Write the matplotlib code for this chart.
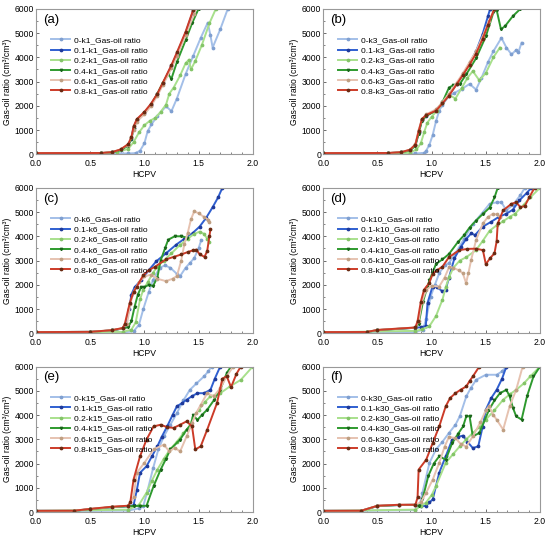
import numpy as np
import matplotlib
matplotlib.use("Agg")
import matplotlib.pyplot as plt
from matplotlib.ticker import MultipleLocator

plt.rcParams['font.family'] = ['Liberation Sans', 'DejaVu Sans']

# fractions of the injected gas (legend prefixes)
fractions = ['0', '0.1', '0.2', '0.4', '0.6', '0.8']
line_colors = ['#a3bfe8', '#2f5fd0', '#a8e08c', '#2e9a2e', '#e6c2b0', '#cc3b28']
mark_colors = ['#7f9fd0', '#1f3a9a', '#84c468', '#1a661a', '#bf9f82', '#6a2a12']
markers = ['o', 'o', 'o', 'v', 'o', 'o']

# (a) k1   -- (HCPV, gas-oil ratio)
k1_00 = [(0, 30), (0.5, 30), (0.85, 35), (0.92, 50), (0.96, 150), (1.0, 450), (1.03, 950), (1.065, 1230),
         (1.12, 1580), (1.2, 1980), (1.25, 1780), (1.3, 2300), (1.38, 3300), (1.45, 4050), (1.52, 4800),
         (1.585, 5430), (1.61, 4900), (1.63, 4400), (1.7, 5150), (1.77, 6000), (1.8, 6400)]
k1_01 = [(0, 50), (0.6, 50), (0.7, 80), (0.78, 180), (0.85, 380), (0.88, 650), (0.9, 1100), (0.93, 1420),
         (1.0, 1720), (1.06, 2050), (1.12, 2480), (1.17, 2920), (1.25, 3650), (1.3, 4150), (1.38, 5000),
         (1.45, 5900), (1.48, 6300)]
k1_02 = [(0, 40), (0.6, 40), (0.75, 100), (0.85, 220), (0.9, 500), (0.95, 900), (1.0, 1200), (1.05, 1380),
         (1.1, 1500), (1.15, 1750), (1.2, 2050), (1.23, 2500), (1.27, 2750), (1.33, 3250), (1.38, 3750),
         (1.41, 3900), (1.43, 3500), (1.47, 3850), (1.53, 4500), (1.6, 5400), (1.66, 6000), (1.68, 6300)]
k1_04 = [(0, 50), (0.6, 50), (0.7, 80), (0.78, 170), (0.85, 360), (0.88, 620), (0.9, 1050), (0.93, 1400),
         (1.0, 1700), (1.06, 2030), (1.12, 2500), (1.17, 2950), (1.22, 3300), (1.25, 3120), (1.3, 3800),
         (1.38, 4700), (1.44, 5400), (1.5, 6000), (1.52, 6300)]
k1_06 = [(0, 50), (0.6, 55), (0.7, 90), (0.78, 200), (0.85, 400), (0.88, 700), (0.9, 1000), (0.93, 1350),
         (1.0, 1650), (1.06, 1980), (1.12, 2420), (1.17, 2850), (1.25, 3550), (1.3, 4050), (1.38, 4900),
         (1.46, 5800), (1.5, 6300)]
k1_08 = [(0, 50), (0.6, 55), (0.7, 90), (0.78, 200), (0.85, 420), (0.88, 700), (0.9, 1150), (0.93, 1450),
         (1.0, 1750), (1.06, 2080), (1.12, 2500), (1.17, 2950), (1.25, 3680), (1.3, 4200), (1.38, 5050),
         (1.45, 5950), (1.48, 6300)]

# (b) k3
k3_00 = [(0, 30), (0.85, 35), (0.93, 60), (0.95, 150), (0.98, 400), (1.01, 800), (1.04, 1360), (1.07, 1800),
         (1.1, 2050), (1.16, 2400), (1.21, 2530), (1.28, 2700), (1.35, 2900), (1.41, 2670), (1.46, 3150),
         (1.52, 3800), (1.57, 4250), (1.644, 4800), (1.69, 4400), (1.737, 4120), (1.78, 4300), (1.8, 4200),
         (1.83, 4600)]
k3_01 = [(0, 50), (0.6, 50), (0.72, 80), (0.8, 170), (0.85, 380), (0.88, 900), (0.91, 1400), (0.95, 1600),
         (1.04, 1830), (1.1, 2100), (1.16, 2450), (1.23, 2900), (1.29, 3300), (1.35, 3750), (1.41, 4250),
         (1.47, 4950), (1.52, 5700), (1.54, 6000), (1.56, 6300)]
k3_02 = [(0, 40), (0.8, 60), (0.86, 200), (0.9, 450), (0.93, 900), (0.96, 1300), (1.0, 1550), (1.05, 1800),
         (1.1, 2100), (1.16, 2450), (1.22, 2300), (1.28, 2750), (1.33, 3150), (1.38, 3430), (1.44, 3050),
         (1.5, 3350), (1.57, 4000), (1.63, 4400)]
k3_04 = [(0, 50), (0.6, 50), (0.72, 80), (0.8, 160), (0.85, 350), (0.88, 850), (0.91, 1380), (0.95, 1580),
         (1.04, 1800), (1.1, 2150), (1.16, 2750), (1.2, 2850), (1.26, 2900), (1.32, 3300), (1.41, 3960),
         (1.5, 4860), (1.57, 5850), (1.6, 5950), (1.64, 5150), (1.68, 5300), (1.75, 5700), (1.82, 6000),
         (1.84, 6200)]
k3_06 = [(0, 50), (0.6, 55), (0.72, 90), (0.8, 190), (0.85, 420), (0.88, 1000), (0.91, 1450), (0.95, 1650),
         (1.04, 1850), (1.1, 2150), (1.16, 2500), (1.23, 2950), (1.29, 3350), (1.35, 3800), (1.41, 4250),
         (1.47, 4850), (1.53, 5500), (1.58, 6000), (1.6, 6300)]
k3_08 = [(0, 50), (0.6, 55), (0.72, 90), (0.8, 190), (0.85, 400), (0.88, 950), (0.91, 1450), (0.95, 1620),
         (1.04, 1800), (1.1, 2100), (1.16, 2420), (1.23, 2880), (1.29, 3280), (1.35, 3700), (1.41, 4150),
         (1.47, 4750), (1.52, 5350), (1.58, 6000), (1.6, 6300)]

# (c) k6
k6_00 = [(0, 30), (0.8, 40), (0.9, 80), (0.95, 350), (0.99, 1000), (1.04, 1700), (1.08, 2200), (1.14, 2700),
         (1.19, 2800), (1.24, 2700), (1.3, 2450), (1.33, 2360), (1.38, 2700), (1.42, 2900), (1.46, 3100),
         (1.5, 3500), (1.525, 3850)]
k6_01 = [(0, 50), (0.5, 60), (0.7, 120), (0.8, 200), (0.83, 400), (0.86, 1000), (0.88, 1600), (0.91, 1900),
         (0.97, 2200), (1.04, 2600), (1.11, 2970), (1.2, 3300), (1.295, 3660), (1.37, 3900), (1.447, 4140),
         (1.51, 4400), (1.57, 4760), (1.63, 5200), (1.68, 5600), (1.72, 6000), (1.74, 6200)]
k6_02 = [(0, 40), (0.8, 60), (0.88, 150), (0.92, 450), (0.96, 1400), (0.99, 1800), (1.03, 2100), (1.08, 2500),
         (1.12, 2750), (1.18, 3000), (1.25, 3300), (1.325, 3630), (1.4, 3900), (1.46, 4100), (1.51, 4190),
         (1.55, 4100), (1.58, 3900), (1.6, 3780)]
k6_04 = [(0, 50), (0.5, 60), (0.7, 120), (0.8, 200), (0.85, 250), (0.88, 500), (0.91, 1100), (0.94, 1600),
         (0.97, 1900), (1.0, 1900), (1.04, 2000), (1.08, 1950), (1.12, 2300), (1.15, 3000), (1.19, 3500),
         (1.22, 3860), (1.28, 4000), (1.34, 4000), (1.39, 3950)]
k6_06 = [(0, 50), (0.5, 60), (0.7, 130), (0.8, 210), (0.84, 400), (0.87, 1200), (0.9, 1700), (0.95, 2100),
         (1.0, 2350), (1.065, 2420), (1.12, 2250), (1.2, 2150), (1.26, 2250), (1.3, 2360), (1.34, 3000),
         (1.37, 3700), (1.4, 4140), (1.43, 4700), (1.46, 5030), (1.5, 4950), (1.55, 4800), (1.585, 4690),
         (1.6, 4600)]
k6_08 = [(0, 50), (0.5, 60), (0.7, 130), (0.8, 220), (0.82, 400), (0.865, 1250), (0.9, 1700), (0.93, 1920),
         (0.99, 2400), (1.04, 2600), (1.1, 2750), (1.2, 3050), (1.27, 3150), (1.34, 3250), (1.4, 3350),
         (1.447, 3420), (1.48, 3450), (1.51, 3260), (1.555, 3150), (1.58, 3400), (1.6, 4000), (1.61, 4300)]

# (d) k10
k10_00 = [(0, 30), (0.85, 50), (0.92, 150), (0.95, 600), (0.99, 1500), (1.03, 2000), (1.07, 2480), (1.12, 2800),
          (1.16, 2900), (1.22, 3300), (1.3, 3900), (1.38, 4500), (1.47, 4980), (1.535, 5340), (1.6, 5400),
          (1.644, 5400), (1.69, 5070), (1.75, 5300), (1.82, 5700), (1.86, 6000), (1.88, 6200)]
k10_01 = [(0, 50), (0.4, 50), (0.5, 130), (0.85, 230), (0.9, 250), (0.946, 300), (0.962, 1250), (1.008, 1930),
          (1.05, 1900), (1.1, 1730), (1.13, 1800), (1.16, 2300), (1.21, 3090), (1.27, 3570), (1.32, 3900),
          (1.365, 4120), (1.4, 4050), (1.47, 4390), (1.55, 4600), (1.62, 4800), (1.69, 4930), (1.75, 5100),
          (1.81, 5480), (1.88, 5800), (1.92, 6000), (1.94, 6200)]
k10_02 = [(0, 40), (0.85, 100), (0.915, 160), (0.98, 300), (1.04, 710), (1.1, 1390), (1.13, 1900), (1.163, 2340),
          (1.2, 2700), (1.26, 3000), (1.32, 3140), (1.41, 3430), (1.47, 3800), (1.535, 4230), (1.6, 4450),
          (1.66, 4620), (1.72, 4800), (1.77, 4930), (1.85, 5300), (1.91, 5600), (2.0, 6000)]
k10_04 = [(0, 50), (0.4, 50), (0.5, 130), (0.85, 230), (0.88, 400), (0.92, 1300), (0.96, 1900), (0.98, 2180),
          (1.04, 2860), (1.1, 3050), (1.16, 3270), (1.24, 3750), (1.3, 4050), (1.35, 4360), (1.41, 4650),
          (1.47, 4910), (1.535, 5180), (1.58, 5600), (1.61, 6000), (1.63, 6300)]
k10_06 = [(0, 50), (0.4, 55), (0.5, 140), (0.85, 240), (0.88, 500), (0.91, 1300), (0.95, 1800), (1.0, 1950),
          (1.07, 1930), (1.12, 2300), (1.163, 2750), (1.2, 2700), (1.25, 2600), (1.287, 2480), (1.318, 2070),
          (1.34, 2500), (1.365, 3030), (1.41, 3850), (1.473, 4530), (1.52, 4800), (1.566, 4930), (1.6, 4900),
          (1.628, 4800)]
k10_08 = [(0, 50), (0.4, 55), (0.5, 140), (0.85, 240), (0.87, 500), (0.9, 1300), (0.93, 1800), (0.977, 2070),
          (1.01, 2450), (1.05, 2600), (1.1, 2750), (1.16, 3140), (1.256, 3430), (1.33, 3480), (1.41, 3490),
          (1.473, 3430), (1.5, 2850), (1.54, 3100), (1.58, 3300), (1.6, 3800), (1.61, 4530), (1.66, 5070),
          (1.737, 5340), (1.78, 5400), (1.82, 5200), (1.86, 5250), (1.9, 5600), (1.95, 6000), (1.97, 6200)]

# (e) k15
k15_00 = [(0, 30), (0.85, 60), (0.95, 150), (0.99, 250), (1.03, 900), (1.08, 1800), (1.13, 2600), (1.18, 3120),
          (1.24, 3600), (1.3, 4080), (1.36, 4600), (1.42, 5040), (1.48, 5300), (1.55, 5590), (1.59, 5800),
          (1.62, 6000), (1.64, 6200)]
k15_01 = [(0, 50), (0.35, 50), (0.5, 120), (0.7, 200), (0.85, 240), (0.9, 280), (0.93, 900), (0.96, 1620),
          (1.02, 1890), (1.07, 2300), (1.12, 2710), (1.16, 3100), (1.21, 3530), (1.26, 4000), (1.3, 4360),
          (1.35, 4500), (1.39, 4630), (1.44, 4780), (1.49, 4900), (1.55, 4900), (1.61, 5040), (1.65, 5500),
          (1.7, 6000), (1.72, 6200)]
k15_02 = [(0, 40), (0.85, 100), (0.95, 300), (1.02, 800), (1.07, 1300), (1.12, 1750), (1.18, 2200), (1.24, 2600),
          (1.3, 2900), (1.36, 3250), (1.41, 3500), (1.45, 3900), (1.5, 4200), (1.56, 4550), (1.61, 4770),
          (1.7, 4900), (1.79, 5180), (1.89, 5450), (2.0, 6000)]
k15_04 = [(0, 50), (0.35, 50), (0.5, 120), (0.7, 200), (0.85, 240), (0.9, 250), (0.96, 250), (1.02, 260),
          (1.085, 1070), (1.15, 1750), (1.2, 2200), (1.24, 2580), (1.33, 2990), (1.39, 3400), (1.43, 3600),
          (1.45, 4000), (1.49, 3800), (1.53, 4000), (1.58, 4220), (1.64, 4600), (1.7, 5040), (1.76, 5730),
          (1.8, 6000), (1.82, 6200)]
k15_06 = [(0, 50), (0.35, 55), (0.5, 130), (0.7, 210), (0.85, 260), (0.9, 600), (0.93, 1620), (1.0, 2030),
          (1.085, 2580), (1.18, 2780), (1.23, 2500), (1.28, 2650), (1.33, 2500), (1.39, 3120), (1.44, 3670),
          (1.48, 4100), (1.52, 4420), (1.58, 4900), (1.64, 4770), (1.7, 5100), (1.76, 5600), (1.82, 6000),
          (1.84, 6200)]
k15_08 = [(0, 50), (0.35, 55), (0.5, 130), (0.7, 220), (0.85, 260), (0.87, 400), (0.9, 1340), (0.96, 2300),
          (1.02, 2990), (1.085, 3530), (1.15, 3600), (1.21, 3500), (1.27, 3470), (1.33, 3600), (1.39, 3740),
          (1.44, 3530), (1.47, 2580), (1.52, 2710), (1.58, 3400), (1.67, 4490), (1.72, 5500), (1.76, 5600),
          (1.8, 5150), (1.85, 5700), (1.89, 6000), (1.91, 6200)]

# (f) k30
k30_00 = [(0, 30), (0.85, 80), (0.89, 300), (0.915, 800), (0.98, 2030), (1.04, 2580), (1.1, 2900), (1.16, 3260),
          (1.22, 3600), (1.26, 3950), (1.32, 4770), (1.36, 5100), (1.41, 5450), (1.5, 5660), (1.6, 5660),
          (1.65, 5800), (1.69, 6000), (1.71, 6200)]
k30_01 = [(0, 50), (0.35, 50), (0.5, 250), (0.7, 290), (0.85, 300), (0.9, 250), (0.946, 250), (0.98, 400),
          (1.01, 520), (1.07, 1620), (1.13, 2300), (1.19, 2990), (1.24, 3100), (1.29, 3150), (1.33, 2900),
          (1.38, 2640), (1.43, 2710), (1.47, 3500), (1.5, 4220), (1.55, 4700), (1.6, 5040), (1.65, 5500),
          (1.69, 6000), (1.71, 6200)]
k30_02 = [(0, 40), (0.85, 100), (0.9, 250), (0.946, 380), (1.0, 700), (1.04, 1070), (1.13, 2030), (1.2, 2400),
          (1.26, 2710), (1.32, 3000), (1.38, 3260), (1.44, 3500), (1.5, 3810), (1.58, 4200), (1.66, 4630),
          (1.72, 4850), (1.78, 5040), (1.85, 5300), (1.91, 5590), (2.0, 6000)]
k30_04 = [(0, 50), (0.35, 50), (0.5, 250), (0.7, 290), (0.85, 300), (0.88, 250), (0.915, 520), (0.97, 1500),
          (1.02, 2000), (1.07, 2300), (1.13, 2160), (1.19, 2850), (1.24, 3200), (1.29, 3530), (1.32, 3950),
          (1.35, 3950), (1.38, 3120), (1.44, 3260), (1.53, 4220), (1.58, 4600), (1.63, 4900), (1.69, 5040),
          (1.72, 4770), (1.75, 4300), (1.78, 3950), (1.83, 3810), (1.88, 4770), (1.94, 5590), (2.0, 6000)]
k30_06 = [(0, 50), (0.35, 55), (0.5, 260), (0.7, 300), (0.85, 310), (0.9, 400), (0.95, 800), (1.01, 1340),
          (1.07, 2030), (1.12, 2700), (1.16, 3100), (1.22, 3050), (1.27, 2800), (1.32, 2700), (1.38, 3120),
          (1.45, 3700), (1.5, 4200), (1.53, 4360), (1.57, 4000), (1.6, 3810), (1.66, 3400), (1.72, 4360),
          (1.78, 5040), (1.84, 6000), (1.86, 6200)]
k30_08 = [(0, 50), (0.35, 55), (0.5, 260), (0.7, 300), (0.85, 300), (0.87, 600), (0.88, 1750), (0.95, 2160),
          (1.01, 2850), (1.07, 3530), (1.13, 4360), (1.17, 4700), (1.22, 4900), (1.27, 5050), (1.32, 5180),
          (1.35, 5400), (1.38, 5590), (1.44, 6000), (1.46, 6200)]

panels = [
    ('(a)', 'k1', [k1_00, k1_01, k1_02, k1_04, k1_06, k1_08]),
    ('(b)', 'k3', [k3_00, k3_01, k3_02, k3_04, k3_06, k3_08]),
    ('(c)', 'k6', [k6_00, k6_01, k6_02, k6_04, k6_06, k6_08]),
    ('(d)', 'k10', [k10_00, k10_01, k10_02, k10_04, k10_06, k10_08]),
    ('(e)', 'k15', [k15_00, k15_01, k15_02, k15_04, k15_06, k15_08]),
    ('(f)', 'k30', [k30_00, k30_01, k30_02, k30_04, k30_06, k30_08]),
]

fig = plt.figure(figsize=(5.5, 5.39), dpi=100)

lefts = [0.0655, 0.5878]
bottoms = [0.7137, 0.3816, 0.050]
w, h = 0.394, 0.2700

for i, (tag, kname, series) in enumerate(panels):
    ax = fig.add_axes([lefts[i % 2], bottoms[i // 2], w, h])
    for j, pts in enumerate(series):
        xs = [p[0] for p in pts]
        ys = [p[1] for p in pts]
        ax.plot(xs, ys, color=line_colors[j], lw=1.4, marker=markers[j], ms=1.7,
                mfc=mark_colors[j], mec=mark_colors[j],
                label=f'{fractions[j]}-{kname}_Gas-oil ratio')
    ax.set_xlim(0, 2.0)
    ax.set_ylim(0, 6000)
    ax.xaxis.set_major_locator(MultipleLocator(0.5))
    ax.xaxis.set_minor_locator(MultipleLocator(0.1))
    ax.yaxis.set_major_locator(MultipleLocator(1000))
    ax.yaxis.set_minor_locator(MultipleLocator(500))
    ax.tick_params(which='both', direction='in', labelsize=6.2, colors='#555555', labelcolor='black')
    ax.tick_params(axis='x', pad=3.5)
    ax.tick_params(axis='y', pad=1.5)
    ax.tick_params(which='major', length=2.5, width=0.6)
    ax.tick_params(which='minor', length=1.5, width=0.5)
    ax.xaxis.set_major_formatter(matplotlib.ticker.FormatStrFormatter('%.1f'))
    for s in ax.spines.values():
        s.set_color('#999999')
        s.set_linewidth(0.8)
    ax.set_xlabel('HCPV', fontsize=6.2, labelpad=1.5)
    ax.set_ylabel('Gas-oil ratio (cm³/cm³)', fontsize=6.2, labelpad=2)
    ax.text(0.032, 0.925, tag, transform=ax.transAxes, fontsize=9.5, va='center', ha='left')
    ax.legend(loc='upper left', bbox_to_anchor=(0.065, 0.815), frameon=False, fontsize=6.0,
              handlelength=2.3, handletextpad=0.45, labelspacing=0.28, borderaxespad=0, borderpad=0.1)

fig.savefig('out.png', dpi=100)
